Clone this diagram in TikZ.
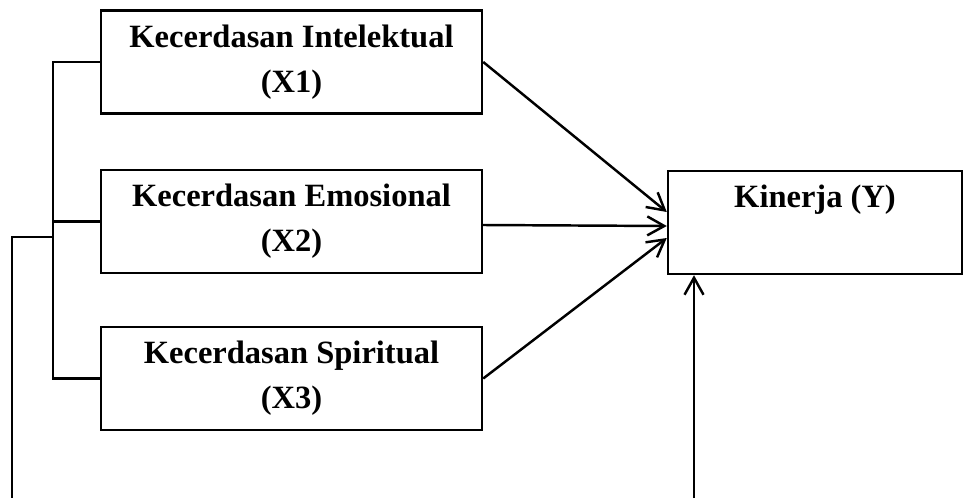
\documentclass[tikz,border=0pt]{standalone}
\usepackage{fontspec}
\setmainfont{Liberation Serif}
\usetikzlibrary{arrows.meta,calc}

\tikzset{
  kotak/.style={draw,line width=1.4pt,minimum width=7.62cm,minimum height=2.06cm,
    align=center,font=\fontsize{18.5}{25.5}\selectfont\bfseries,inner sep=0pt},
  garis/.style={line width=1.4pt},
  panah/.style={garis,-{Straight Barb[length=3.4mm,width=3.8mm,line width=1.4pt]}}
}

\begin{document}
\begin{tikzpicture}
  \useasboundingbox (0,0) rectangle (19.26,-9.96);
  % variabel bebas
  \node[kotak] (x1) at (5.83,-1.24) {Kecerdasan Intelektual\\(X1)};
  \node[kotak] (x2) at (5.83,-4.43) {Kecerdasan Emosional\\(X2)};
  \node[kotak] (x3) at (5.83,-7.57) {Kecerdasan Spiritual\\(X3)};
  % variabel terikat
  \node[kotak,minimum width=5.88cm] (ky) at (16.3,-4.45) {Kinerja (Y)\\\phantom{(Y)}};
  \coordinate (bawahkiri) at (0.24,-9.96);
  \coordinate (bawahkanan) at (13.88,-9.96);
  % panah ke Y
  \draw[panah] (x1.east) -- ($(ky.west)+(0,0.21)$);
  \draw[panah] ($(x2.east)+(0,-0.07)$) -- ($(ky.west)+(0,-0.07)$);
  \draw[panah] (x3.east) -- ($(ky.west)+(0,-0.31)$);
  % kurung kiri
  \draw[garis] (x1.west) -- ++(-0.94,0) coordinate (k1) |- (x3.west);
  \draw[garis] (x2.west) -- (x2.west -| k1);
  \draw[garis] ($(k1|-x2.west)+(0,-0.31)$) coordinate (k2) -- (k2 -| bawahkiri) -- (bawahkiri);
  \draw[panah] (bawahkanan) -- (bawahkanan |- ky.south);
\end{tikzpicture}
\end{document}
